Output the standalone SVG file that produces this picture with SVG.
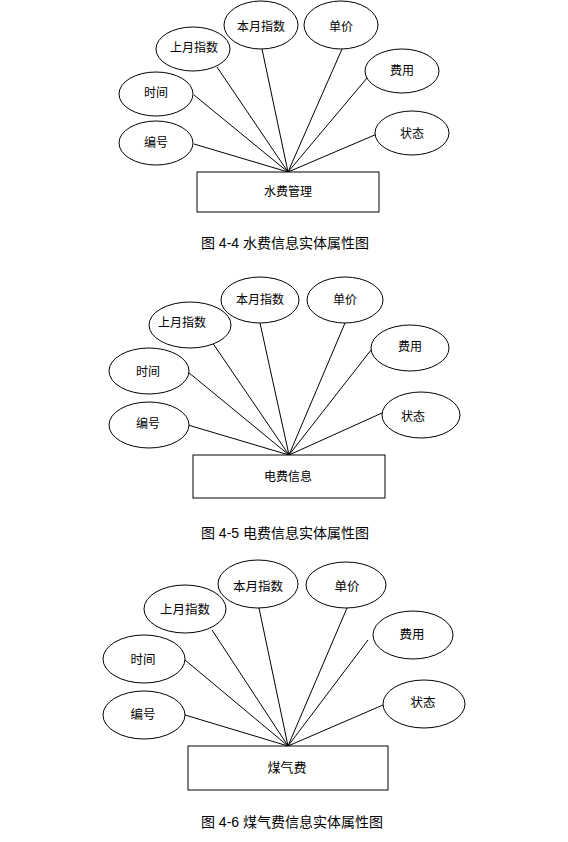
<svg xmlns="http://www.w3.org/2000/svg" width="568" height="842" viewBox="0 0 568 842">
<style>
.e{fill:#fff;stroke:#000;stroke-width:1}
.r{fill:#fff;stroke:#000;stroke-width:1}
.c line{stroke:#000;stroke-width:1}
text{font-family:"Liberation Sans","Noto Sans CJK SC",sans-serif;fill:#000;text-anchor:middle;dominant-baseline:central}
.t{font-size:12px}
.t3{font-size:12.5px}
.cap{font-size:14px}
</style>
<rect width="568" height="842" fill="#fff"/>

<!-- Diagram 1 -->
<g id="d1-connectors" class="c">
<line x1="194" y1="144" x2="288" y2="172"/>
<line x1="194" y1="95" x2="288" y2="172"/>
<line x1="217" y1="67" x2="288" y2="172"/>
<line x1="262" y1="49" x2="288" y2="172"/>
<line x1="342" y1="49" x2="288" y2="172"/>
<line x1="367" y1="78" x2="288" y2="172"/>
<line x1="377" y1="134" x2="288" y2="172"/>
</g>
<g id="d1-bianhao"><ellipse class="e" cx="156" cy="143" rx="37" ry="22"/><text class="t" x="156" y="143">编号</text></g>
<g id="d1-shijian"><ellipse class="e" cx="156" cy="94" rx="37" ry="22"/><text class="t" x="156" y="93">时间</text></g>
<g id="d1-shangyue"><ellipse class="e" cx="193" cy="49" rx="37" ry="22"/><text class="t" x="194" y="48">上月指数</text></g>
<g id="d1-benyue"><ellipse class="e" cx="261" cy="25" rx="37" ry="24"/><text class="t" x="261" y="27">本月指数</text></g>
<g id="d1-danjia"><ellipse class="e" cx="341" cy="25" rx="37" ry="24"/><text class="t" x="341" y="27">单价</text></g>
<g id="d1-feiyong"><ellipse class="e" cx="402" cy="71" rx="37" ry="22"/><text class="t" x="402" y="71">费用</text></g>
<g id="d1-zhuangtai"><ellipse class="e" cx="412" cy="133" rx="37" ry="22"/><text class="t" x="412" y="134">状态</text></g>
<g id="d1-entity"><rect class="r" x="197" y="172" width="182" height="40"/><text class="t" x="288" y="192">水费管理</text></g>
<text class="cap" x="285" y="243">图 4-4 水费信息实体属性图</text>

<!-- Diagram 2 -->
<g id="d2-connectors" class="c">
<line x1="188" y1="425" x2="289" y2="455"/>
<line x1="188" y1="372" x2="289" y2="455"/>
<line x1="212" y1="342" x2="289" y2="455"/>
<line x1="260" y1="323" x2="289" y2="455"/>
<line x1="345" y1="323" x2="289" y2="455"/>
<line x1="371" y1="350" x2="289" y2="455"/>
<line x1="382" y1="413" x2="289" y2="455"/>
</g>
<g id="d2-bianhao"><ellipse class="e" cx="149" cy="425" rx="40" ry="23"/><text class="t" x="148" y="424">编号</text></g>
<g id="d2-shijian"><ellipse class="e" cx="149" cy="371" rx="40" ry="23"/><text class="t" x="148" y="372">时间</text></g>
<g id="d2-shangyue"><ellipse class="e" cx="190" cy="325" rx="41" ry="23"/><text class="t" x="182" y="323">上月指数</text></g>
<g id="d2-benyue"><ellipse class="e" cx="260" cy="300" rx="39" ry="23"/><text class="t" x="260" y="300">本月指数</text></g>
<g id="d2-danjia"><ellipse class="e" cx="345" cy="300" rx="38" ry="23"/><text class="t" x="345" y="300">单价</text></g>
<g id="d2-feiyong"><ellipse class="e" cx="410" cy="348" rx="39" ry="23"/><text class="t" x="410" y="347">费用</text></g>
<g id="d2-zhuangtai"><ellipse class="e" cx="421" cy="415" rx="39" ry="23"/><text class="t" x="413" y="417">状态</text></g>
<g id="d2-entity"><rect class="r" x="193" y="455" width="192" height="43"/><text class="t" x="288" y="477">电费信息</text></g>
<text class="cap" x="285" y="533">图 4-5 电费信息实体属性图</text>

<!-- Diagram 3 -->
<g id="d3-connectors" class="c">
<line x1="185" y1="715" x2="288" y2="746"/>
<line x1="185" y1="660" x2="288" y2="746"/>
<line x1="212" y1="630" x2="288" y2="746"/>
<line x1="259" y1="608" x2="288" y2="746"/>
<line x1="347" y1="608" x2="288" y2="746"/>
<line x1="368" y1="640" x2="288" y2="746"/>
<line x1="383" y1="705" x2="288" y2="746"/>
</g>
<g id="d3-bianhao"><ellipse class="e" cx="144" cy="715" rx="41" ry="24"/><text class="t3" x="143" y="715">编号</text></g>
<g id="d3-shijian"><ellipse class="e" cx="144" cy="659" rx="41" ry="24"/><text class="t3" x="143" y="660">时间</text></g>
<g id="d3-shangyue"><ellipse class="e" cx="185" cy="609" rx="41" ry="24"/><text class="t3" x="185" y="610">上月指数</text></g>
<g id="d3-benyue"><ellipse class="e" cx="258" cy="584" rx="40" ry="24"/><text class="t3" x="258" y="587">本月指数</text></g>
<g id="d3-danjia"><ellipse class="e" cx="346" cy="585" rx="40" ry="23"/><text class="t3" x="347" y="587">单价</text></g>
<g id="d3-feiyong"><ellipse class="e" cx="413" cy="635" rx="40" ry="24"/><text class="t3" x="412" y="635">费用</text></g>
<g id="d3-zhuangtai"><ellipse class="e" cx="424" cy="704" rx="41" ry="24"/><text class="t3" x="423" y="703">状态</text></g>
<g id="d3-entity"><rect class="r" x="188" y="746" width="200" height="44"/><text x="287" y="767" style="font-size:13px">煤气费</text></g>
<text class="cap" x="292" y="822">图 4-6 煤气费信息实体属性图</text>
</svg>
